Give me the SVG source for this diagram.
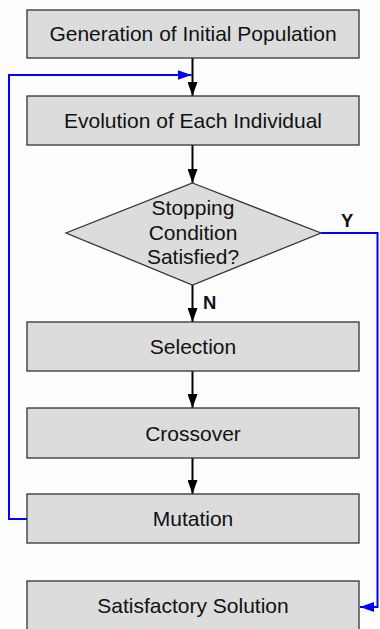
<svg xmlns="http://www.w3.org/2000/svg" width="380" height="629" viewBox="0 0 380 629">
<defs>
<style>
.box{fill:#dcdcdc;stroke:#333;stroke-width:1.3}
.t{font-family:"Liberation Sans",Arial,sans-serif;font-size:21px;fill:#111;text-anchor:middle}
.lbl{font-family:"Liberation Sans",Arial,sans-serif;font-size:18.5px;font-weight:bold;fill:#111}
.blk{stroke:#000;stroke-width:2;fill:none}
.blu{stroke:#0000ff;stroke-width:2;fill:none}
</style>
<marker id="ab" viewBox="0 0 14 10" refX="14" refY="5" markerWidth="14" markerHeight="10" markerUnits="userSpaceOnUse" orient="auto"><path d="M0,0L14,5L0,10z" fill="#000"/></marker>
<marker id="au" viewBox="0 0 14 10" refX="14" refY="5" markerWidth="14" markerHeight="10" markerUnits="userSpaceOnUse" orient="auto"><path d="M0,0L14,5L0,10z" fill="#0000ff"/></marker>
</defs>
<rect width="380" height="629" fill="#fdfdfd"/>
<g id="connectors">
<path class="blk" d="M192.5,58V96" marker-end="url(#ab)"/>
<path class="blk" d="M192.5,145V183" marker-end="url(#ab)"/>
<path class="blk" d="M192.5,285V322" marker-end="url(#ab)"/>
<path class="blk" d="M192.5,371V408" marker-end="url(#ab)"/>
<path class="blk" d="M192.5,458V494" marker-end="url(#ab)"/>
<path class="blu" d="M27,519H9V75H191.5" marker-end="url(#au)"/>
<path class="blu" d="M321,233H377.5V607H360" marker-end="url(#au)"/>
<text class="lbl" x="341" y="227">Y</text>
<text class="lbl" x="203" y="309">N</text>
</g>
<g id="n1"><rect class="box" x="27" y="10" width="332" height="48"/><text class="t" x="193" y="41">Generation of Initial Population</text></g>
<g id="n2"><rect class="box" x="27" y="96" width="332" height="49"/><text class="t" x="193" y="128">Evolution of Each Individual</text></g>
<g id="n3"><polygon class="box" points="192.5,183 321,233 192.5,285 66,233"/><text class="t" x="193" y="215">Stopping</text><text class="t" x="193" y="240">Condition</text><text class="t" x="193" y="264">Satisfied?</text></g>
<g id="n4"><rect class="box" x="27" y="322" width="332" height="49"/><text class="t" x="193" y="354">Selection</text></g>
<g id="n5"><rect class="box" x="27" y="408" width="332" height="50"/><text class="t" x="193" y="440.5">Crossover</text></g>
<g id="n6"><rect class="box" x="27" y="494" width="332" height="49"/><text class="t" x="193" y="526">Mutation</text></g>
<g id="n7"><rect class="box" x="27" y="581" width="332" height="60"/><text class="t" x="193" y="613">Satisfactory Solution</text></g>
</svg>
